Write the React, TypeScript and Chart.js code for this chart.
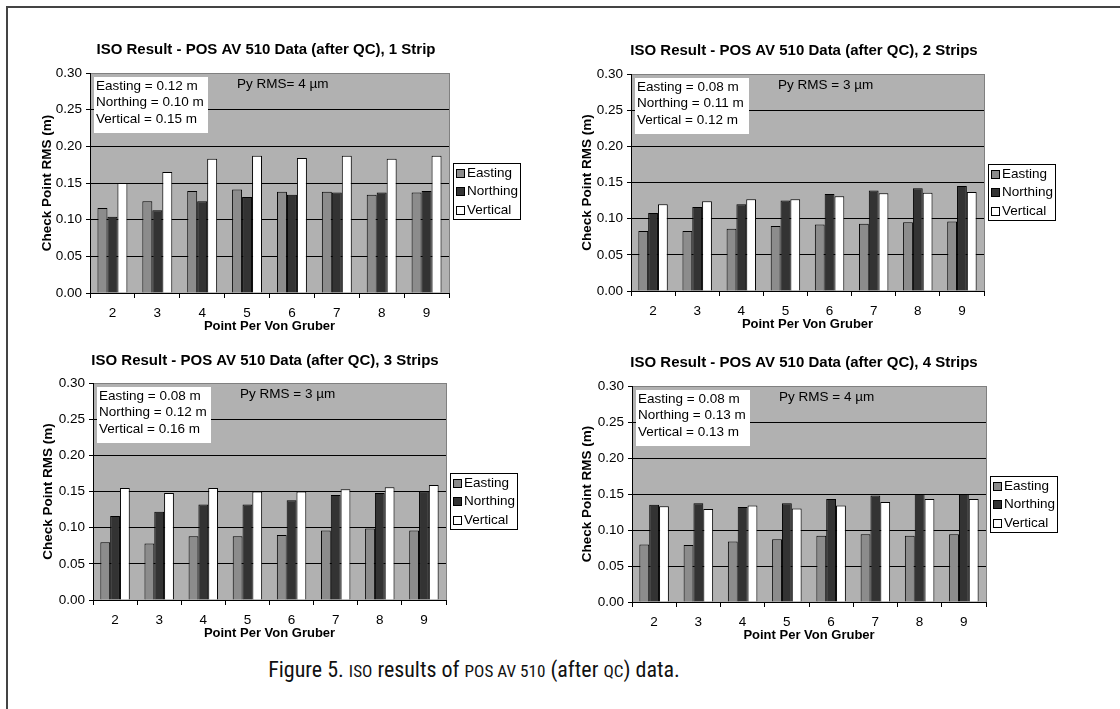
import React, { useEffect, useRef } from "react";
import { Chart, registerables } from "chart.js";

Chart.register(...registerables);

// ---------------- data ----------------
const categories = ["2", "3", "4", "5", "6", "7", "8", "9"];
const seriesNames = ["Easting", "Northing", "Vertical"];
const yTickStep = 0.05;
const yMin = 0;
const yMax = 0.3;

const easting1 = [0.116, 0.125, 0.139, 0.141, 0.138, 0.138, 0.134, 0.137];
const northing1 = [0.104, 0.113, 0.125, 0.131, 0.134, 0.137, 0.137, 0.139];
const vertical1 = [0.15, 0.165, 0.183, 0.187, 0.184, 0.187, 0.183, 0.187];

const easting2 = [0.083, 0.083, 0.086, 0.09, 0.092, 0.093, 0.095, 0.096];
const northing2 = [0.108, 0.116, 0.12, 0.125, 0.134, 0.139, 0.142, 0.145];
const vertical2 = [0.12, 0.124, 0.127, 0.127, 0.131, 0.135, 0.136, 0.137];

const easting3 = [0.08, 0.078, 0.088, 0.088, 0.09, 0.096, 0.099, 0.096];
const northing3 = [0.116, 0.122, 0.132, 0.132, 0.138, 0.145, 0.148, 0.15];
const vertical3 = [0.155, 0.148, 0.155, 0.15, 0.15, 0.153, 0.156, 0.159];

const easting4 = [0.08, 0.079, 0.084, 0.087, 0.092, 0.094, 0.092, 0.094];
const northing4 = [0.135, 0.137, 0.132, 0.137, 0.143, 0.148, 0.15, 0.15];
const vertical4 = [0.133, 0.129, 0.134, 0.13, 0.134, 0.139, 0.143, 0.143];

const chartTitles = [
  "ISO Result - POS AV 510 Data (after QC), 1 Strip",
  "ISO Result - POS AV 510 Data (after QC), 2 Strips",
  "ISO Result - POS AV 510 Data (after QC), 3 Strips",
  "ISO Result - POS AV 510 Data (after QC), 4 Strips",
];
const summaryLines = [
  ["Easting = 0.12 m", "Northing = 0.10 m", "Vertical = 0.15 m"],
  ["Easting = 0.08 m", "Northing = 0.11 m", "Vertical = 0.12 m"],
  ["Easting = 0.08 m", "Northing = 0.12 m", "Vertical = 0.16 m"],
  ["Easting = 0.08 m", "Northing = 0.13 m", "Vertical = 0.13 m"],
];
const pyRmsLabels = ["Py RMS= 4 \u00b5m", "Py RMS = 3 \u00b5m", "Py RMS = 3 \u00b5m", "Py RMS = 4 \u00b5m"];
const xAxisTitle = "Point Per Von Gruber";
const yAxisTitle = "Check Point RMS (m)";

const panelSeries = [
  [easting1, northing1, vertical1],
  [easting2, northing2, vertical2],
  [easting3, northing3, vertical3],
  [easting4, northing4, vertical4],
];

// ---------------- styles / layout ----------------
const FONT = '"Liberation Sans", Arial, Helvetica, sans-serif';
const seriesColors = ["#8c8c8c", "#333333", "#ffffff"];
const PLOT_BG = "#b1b1b1";

type Layout = {
  left: number; top: number; w: number; h: number;
  plotL: number; plotR: number; plotT: number; plotB: number;
  titleX: number; titleY: number; yTitleX: number;
};

const layouts: Layout[] = [
  { left: 0, top: 0, w: 560, h: 340, plotL: 90, plotR: 449, plotT: 73, plotB: 293, titleX: 266, titleY: 50, yTitleX: 47 },
  { left: 560, top: 0, w: 560, h: 340, plotL: 71, plotR: 424, plotT: 74, plotB: 291, titleX: 244, titleY: 51, yTitleX: 27 },
  { left: 0, top: 340, w: 560, h: 300, plotL: 93, plotR: 446, plotT: 43, plotB: 260, titleX: 265, titleY: 21, yTitleX: 48 },
  { left: 560, top: 340, w: 560, h: 300, plotL: 72, plotR: 426, plotT: 46, plotB: 262, titleX: 244, titleY: 23, yTitleX: 27 },
];

const decorPlugin = {
  id: "decor",
  beforeDraw(chart: any) {
    const { ctx, chartArea: a } = chart;
    ctx.save();
    ctx.fillStyle = PLOT_BG;
    ctx.fillRect(a.left, a.top, a.right - a.left, a.bottom - a.top);
    ctx.restore();
  },
  afterDraw(chart: any) {
    const o = chart.options.plugins.decor;
    const { ctx, chartArea: a } = chart;
    ctx.save();
    // right border of plot area
    ctx.strokeStyle = "#808080";
    ctx.lineWidth = 1;
    ctx.beginPath();
    const rx = Math.round(a.right) + 0.5;
    ctx.moveTo(rx, a.top);
    ctx.lineTo(rx, a.bottom);
    ctx.stroke();

    // title
    ctx.fillStyle = "#000";
    ctx.font = `bold 15px ${FONT}`;
    ctx.textAlign = "center";
    ctx.textBaseline = "middle";
    ctx.fillText(o.title, o.titleX, o.titleY);

    // summary box
    const bx = Math.round(a.left) + 4;
    const by = Math.round(a.top) + 4;
    ctx.fillStyle = "#ffffff";
    ctx.fillRect(bx, by, 114, 56);
    ctx.fillStyle = "#000";
    ctx.font = `13.5px ${FONT}`;
    ctx.textAlign = "left";
    o.summary.forEach((t: string, i: number) => {
      ctx.fillText(t, bx + 2, by + 9 + i * 16.5);
    });

    // Py RMS
    ctx.fillText(o.py, a.left + 147, a.top + 11);

    // legend
    const lx = Math.round(a.right) + 4;
    const ly = Math.round(a.top) + 90;
    const lw = 67;
    const lh = 56;
    ctx.fillStyle = "#ffffff";
    ctx.fillRect(lx, ly, lw, lh);
    ctx.strokeStyle = "#000";
    ctx.strokeRect(lx + 0.5, ly + 0.5, lw, lh);
    chart.data.datasets.forEach((ds: any, i: number) => {
      const yy = ly + 10 + i * 18.5;
      ctx.fillStyle = ds.backgroundColor;
      ctx.fillRect(lx + 3, Math.round(yy - 4.5), 9, 9);
      ctx.strokeStyle = "#000";
      ctx.strokeRect(lx + 3.5, Math.round(yy - 4.5) + 0.5, 8, 8);
      ctx.fillStyle = "#000";
      ctx.font = `13.5px ${FONT}`;
      ctx.fillText(ds.label, lx + 14, yy);
    });
    ctx.restore();
  },
};

function Panel({ index }: { index: number }) {
  const ref = useRef<HTMLCanvasElement | null>(null);
  const L = layouts[index];
  useEffect(() => {
    if (!ref.current) return;
    const series = panelSeries[index];
    const xTitleFont = 13;
    const yTitleFont = 13.5;
    const chart = new Chart(ref.current, {
      type: "bar",
      data: {
        labels: categories,
        datasets: seriesNames.map((name, i) => ({
          label: name,
          data: series[i],
          backgroundColor: seriesColors[i],
          borderColor: "#000",
          borderWidth: 1,
          barPercentage: 1.0,
          categoryPercentage: 0.667,
        })),
      },
      options: {
        animation: false,
        responsive: false,
        events: [],
        layout: { padding: { left: 0, top: L.plotT, right: L.w - L.plotR, bottom: 0 } },
        plugins: {
          legend: { display: false },
          tooltip: { enabled: false },
          title: { display: false },
          decor: {
            title: chartTitles[index],
            titleX: L.titleX,
            titleY: L.titleY,
            summary: summaryLines[index],
            py: pyRmsLabels[index],
          },
        } as any,
        scales: {
          x: {
            afterFit: (s: any) => { s.height = L.h - L.plotB; },
            grid: { offset: true, drawOnChartArea: false, drawTicks: true, tickLength: 5, color: "#000", lineWidth: 1 },
            border: { display: true, color: "#000", width: 1 },
            ticks: { color: "#000", font: { family: FONT, size: 13.5 }, padding: 7, maxRotation: 0 },
            title: {
              display: true,
              text: xAxisTitle,
              color: "#000",
              font: { family: FONT, size: xTitleFont, weight: "bold" },
              padding: { top: 0, bottom: L.h - L.plotB - 33 - (xTitleFont * 1.2) / 2 },
            },
          },
          y: {
            min: yMin,
            max: yMax,
            afterFit: (s: any) => { s.width = L.plotL; },
            ticks: {
              stepSize: yTickStep,
              color: "#000",
              font: { family: FONT, size: 13.5 },
              padding: 4,
              callback: (v: any) => Number(v).toFixed(2),
            },
            grid: {
              color: (c: any) => (c.tick && Math.abs(c.tick.value - yMax) < 1e-6 ? "#808080" : "#000"),
              tickColor: "#000",
              tickLength: 4,
              drawTicks: true,
              lineWidth: 1,
            },
            border: { display: true, color: "#000", width: 1 },
            title: {
              display: true,
              text: yAxisTitle,
              color: "#000",
              font: { family: FONT, size: yTitleFont, weight: "bold" },
              padding: { top: L.yTitleX - (yTitleFont * 1.2) / 2, bottom: 0 },
            },
          },
        },
      },
      plugins: [decorPlugin],
    } as any);
    return () => chart.destroy();
  }, [index]);
  return (
    <canvas
      ref={ref}
      width={L.w}
      height={L.h}
      style={{ position: "absolute", left: L.left, top: L.top, width: L.w, height: L.h }}
    />
  );
}

const sc: React.CSSProperties = { fontSize: "0.78em" };

export default function App() {
  return (
    <div
      style={{
        position: "absolute",
        left: 0,
        top: 0,
        width: 1120,
        height: 709,
        overflow: "hidden",
        background: "#ffffff",
      }}
    >
      <div
        style={{
          position: "absolute",
          left: 6,
          top: 6,
          width: 1300,
          height: 900,
          border: "2px solid #444",
          boxSizing: "border-box",
        }}
      />
      {layouts.map((_, i) => (
        <Panel key={i} index={i} />
      ))}
      <div
        style={{
          position: "absolute",
          left: 0,
          width: 948,
          top: 656,
          textAlign: "center",
          fontFamily: '"Liberation Sans Narrow", "Roboto Condensed", "DejaVu Sans Condensed", sans-serif',
          fontSize: 22,
          lineHeight: "28px",
          color: "#111",
        }}
      >
        Figure 5. <span style={sc}>ISO</span> results of <span style={sc}>POS AV 510</span> (after{" "}
        <span style={sc}>QC</span>) data.
      </div>
    </div>
  );
}
